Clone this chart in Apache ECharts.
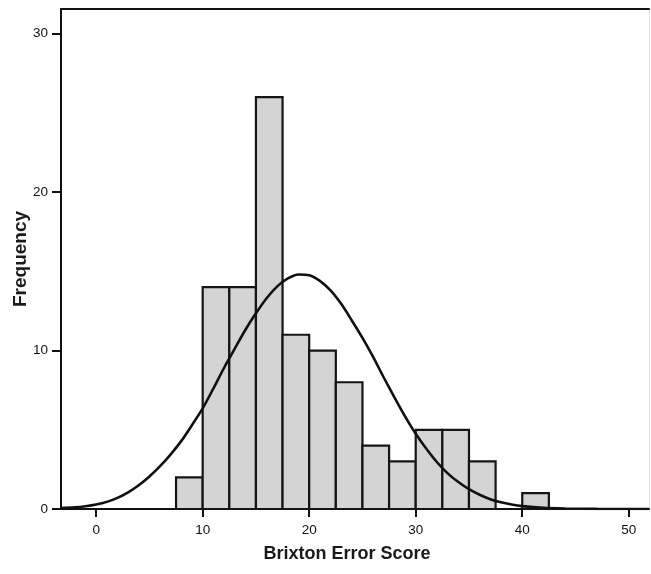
<!DOCTYPE html>
<html>
<head>
<meta charset="utf-8">
<title>Brixton Error Score</title>
<script src="https://cdn.jsdelivr.net/npm/echarts@6/dist/echarts.min.js"></script>
<style>
  html, body { margin: 0; padding: 0; background: #ffffff; }
  #chart { width: 651px; height: 574px; }
</style>
</head>
<body>
<div id="chart"></div>
<script>
// Histogram bins (lower/upper edges, width 2.5) and their frequencies
const binLower = [7.5, 10, 12.5, 15, 17.5, 20, 22.5, 25, 27.5, 30, 32.5, 35, 37.5, 40];
const binUpper = [10, 12.5, 15, 17.5, 20, 22.5, 25, 27.5, 30, 32.5, 35, 37.5, 40, 42.5];
const counts   = [2, 14, 14, 26, 11, 10, 8, 4, 3, 5, 5, 3, 0, 1];

// Normal curve overlay, sampled along the score axis
const curveX = [-3.3, -2, -1, 0, 1, 2, 3, 4, 5, 6, 7, 8, 9, 10, 11, 12, 13, 14, 15, 16, 17, 18, 19, 20,
                21, 22, 23, 24, 25, 26, 27, 28, 29, 30, 31, 32, 33, 34, 35, 36, 37, 38, 39, 40, 42, 44, 47, 51.9];
const curveY = [0.06, 0.1, 0.17, 0.28, 0.45, 0.7, 1.05, 1.5, 2.05, 2.7, 3.45, 4.3, 5.3, 6.35, 7.6, 8.9, 10.1, 11.3, 12.35, 13.3, 14.05, 14.55, 14.8, 14.75,
                14.4, 13.8, 12.95, 11.9, 10.8, 9.6, 8.3, 7.05, 5.85, 4.75, 3.8, 2.95, 2.25, 1.7, 1.25, 0.9, 0.62, 0.42, 0.28, 0.18, 0.07, 0.03, 0.01, 0];

// Axis ticks
const xTicks = [0, 10, 20, 30, 40, 50];
const yTicks = [0, 10, 20, 30];

const FONT = '"Liberation Sans", Arial, sans-serif';

const histData = binLower.map((lo, i) => [lo, binUpper[i], counts[i]]);
const curveData = curveX.map((x, i) => [x, curveY[i]]);

const chart = echarts.init(document.getElementById('chart'), null, { renderer: 'canvas' });

chart.setOption({
  backgroundColor: '#ffffff',
  animation: false,
  grid: { left: 61, right: 2, top: 9, bottom: 65, containLabel: false, outerBoundsMode: 'none' },
  xAxis: [
    {
      type: 'value',
      position: 'bottom',
      min: -3.3,
      max: 51.9,
      name: 'Brixton Error Score',
      nameLocation: 'middle',
      nameGap: 36,
      nameMoveOverlap: false,
      nameTextStyle: { fontFamily: FONT, fontWeight: 'bold', fontSize: 18, color: '#1a1a1a', padding: [0, 16, 0, 0] },
      axisLine: { onZero: false, lineStyle: { color: '#111', width: 2 } },
      axisTick: { show: true, customValues: xTicks, length: 8, lineStyle: { color: '#111', width: 2 } },
      axisLabel: { customValues: xTicks, margin: 14, fontFamily: FONT, fontSize: 13.5, color: '#111' },
      splitLine: { show: false }
    },
    {
      type: 'value',
      position: 'top',
      min: -3.3,
      max: 51.9,
      axisLine: { onZero: false, lineStyle: { color: '#111', width: 2 } },
      axisTick: { show: false },
      axisLabel: { show: false },
      splitLine: { show: false }
    }
  ],
  yAxis: [
    {
      type: 'value',
      position: 'left',
      min: 0,
      max: 31.56,
      name: 'Frequency',
      nameLocation: 'middle',
      nameGap: 31,
      nameMoveOverlap: false,
      nameRotate: 90,
      nameTextStyle: { fontFamily: FONT, fontWeight: 'bold', fontSize: 19, color: '#1a1a1a' },
      axisLine: { show: true, onZero: false, lineStyle: { color: '#111', width: 2 } },
      axisTick: { show: true, customValues: yTicks, length: 9, lineStyle: { color: '#111', width: 2 } },
      axisLabel: { customValues: yTicks, margin: 13, fontFamily: FONT, fontSize: 13.5, color: '#111' },
      splitLine: { show: false }
    },
    {
      type: 'value',
      position: 'right',
      min: 0,
      max: 31.56,
      axisLine: { show: true, onZero: false, lineStyle: { color: '#e2e2e2', width: 1 } },
      axisTick: { show: false },
      axisLabel: { show: false },
      splitLine: { show: false }
    }
  ],
  series: [
    {
      type: 'custom',
      name: 'Frequency',
      xAxisIndex: 0,
      yAxisIndex: 0,
      data: histData,
      encode: { x: [0, 1], y: 2 },
      z: 2,
      renderItem: function (params, api) {
        const topLeft = api.coord([api.value(0), api.value(2)]);
        const bottomRight = api.coord([api.value(1), 0]);
        if (api.value(2) <= 0) return null;
        return {
          type: 'rect',
          shape: {
            x: topLeft[0],
            y: topLeft[1],
            width: bottomRight[0] - topLeft[0],
            height: bottomRight[1] - topLeft[1]
          },
          style: { fill: '#d4d4d4', stroke: '#151515', lineWidth: 2.2 }
        };
      }
    },
    {
      type: 'line',
      name: 'Normal',
      xAxisIndex: 0,
      yAxisIndex: 0,
      data: curveData,
      showSymbol: false,
      smooth: 0.3,
      clip: true,
      z: 5,
      lineStyle: { color: '#111', width: 2.6 }
    }
  ]
});
</script>
</body>
</html>
